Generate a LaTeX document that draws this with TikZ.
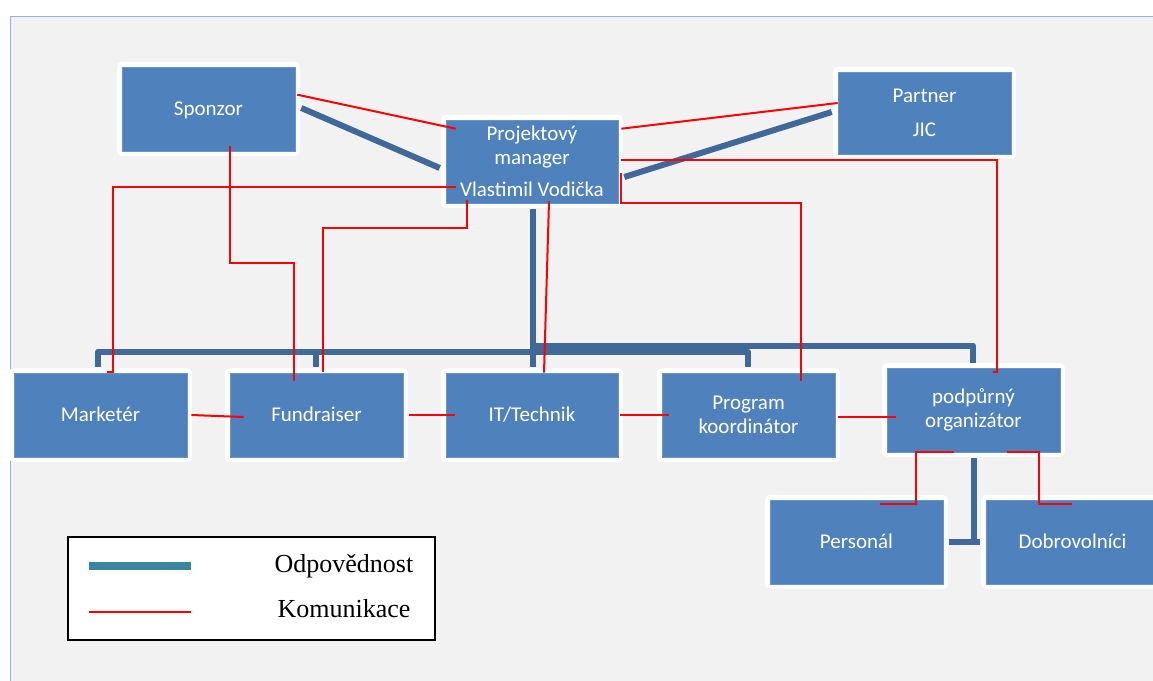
\documentclass[tikz,border=0pt]{standalone}
\usepackage{fontspec}
\setmainfont{Carlito}
\newfontfamily\legendfont{Liberation Serif}
\usetikzlibrary{calc}
\definecolor{boxblue}{HTML}{4F81BD}
\definecolor{respblue}{RGB}{64,104,153}
\definecolor{legendteal}{RGB}{58,134,160}
\definecolor{panelgray}{HTML}{F2F2F2}
\definecolor{paneledge}{HTML}{95B3D7}

\begin{document}
\begin{tikzpicture}[x=1pt,y=-1pt,
  unit/.style={fill=boxblue, draw=boxblue!85!white, line width=0.6pt, text=white,
    minimum width=173pt, minimum height=84pt, inner sep=0pt, align=center,
    font=\fontsize{21}{24}\selectfont,
    preaction={draw=white, line width=10pt, line join=round}},
  oneline/.style={text height=13pt, text depth=0pt},
  resp/.style={draw=respblue, line width=6pt, line join=round},
  comm/.style={draw=red, line width=2pt},
  legendtext/.style={anchor=base, inner sep=0pt, font=\legendfont\fontsize{26}{30}\selectfont},
]
% page and panel
\fill[white] (0,0) rectangle (1153,680);
\useasboundingbox (0,0) rectangle (1153,680);
\draw[paneledge, fill=panelgray, line width=1pt] (10,16) rectangle (1180,700);

% unit positions
\path (208.5,109) coordinate (c-sp)
      (532,161.5) coordinate (c-pm)
      (924.5,113) coordinate (c-pa)
      (100.5,415) coordinate (c-mk)
      (316.5,415) coordinate (c-fu)
      (532,415)   coordinate (c-it)
      (748.5,415) coordinate (c-pk)
      (973.5,410) coordinate (c-po)
      (856.5,542) coordinate (c-pe)
      (1072.5,542) coordinate (c-do);

% units
\node[unit, oneline] (sp) at (c-sp) {Sponzor};
\node[unit, minimum width=172pt, minimum height=83pt] (pm) at (c-pm)
  {Projektový\\manager\\[8pt]Vlastimil Vodička};
\node[unit, minimum height=82pt] (pa) at (c-pa) {Partner\\[10pt]JIC};
\node[unit, oneline] (mk) at (c-mk) {Marketér};
\node[unit, oneline] (fu) at (c-fu) {Fundraiser};
\node[unit, oneline, minimum width=172pt] (it) at (c-it) {IT/Technik};
\node[unit] (pk) at (c-pk) {Program\\koordinátor};
\node[unit] (po) at (c-po) {podpůrný\\organizátor};
\node[unit, oneline] (pe) at (c-pe) {Personál};
\node[unit, oneline] (do) at (c-do) {Dobrovolníci};

% responsibility (thick blue)
\draw[resp] ($(sp.east)+(6,-1)$) -- ($(pm.west)+(-6,6.5)$);
\draw[resp] ($(pa.west)+(-6,-1)$) -- ($(pm.east)+(6,15.5)$);
\draw[resp] ($(pm.south)+(1,6)$) -- ($(it.north)+(1,-6)$);
\draw[resp] ($(mk.north)+(-2.5,-6)$) -- ++(0,-15) -| ($(pk.north)+(-0.5,-6)$);
\draw[resp] ($(fu.north)+(-0.5,-6)$) -- ++(0,-15);
\draw[resp] ($(it.north)+(1,-27)$) -| ($(po.north)+(-0.5,-5)$);
\draw[resp] ($(po.south)+(0.5,6)$) -- ++(0,84);
\draw[resp] ($(pe.east)+(6,0)$) -- ($(do.west)+(-6,0)$);

% communication (thin red)
\draw[comm] ($(sp.north east)+(2,28)$) -- ($(pm.north west)+(10,9)$);
\draw[comm] ($(pa.west)+(0,-10)$) -- ($(pm.north east)+(3,9)$);
\draw[comm] ($(pm.south west)+(10,-16)$) -| ($(mk.north west)+(99,-1)$) -- ++(-6,0);
\draw[comm] ($(sp.south)+(21.5,-5)$) -- ++(0,117) -| ($(fu.north)+(-22.5,8)$);
\draw[comm] ($(pm.south west)+(21,-3)$) -- ++(0,28) -| ($(fu.north)+(6.5,-1)$);
\draw[comm] ($(pm.south)+(17,-2)$) -- ($(it.north)+(12,0)$);
\draw[comm] ($(pm.east)+(3,11.5)$) -- ++(0,30) -| ($(pk.north)+(52.5,8)$);
\draw[comm] ($(pm.east)+(3,-1.5)$) -| ($(po.north)+(23.5,4)$) -- ++(-4,0);
\draw[comm] ($(mk.east)+(4,0)$) -- ($(fu.west)+(14,2)$);
\draw[comm] ($(fu.east)+(6,0)$) -- ($(it.west)+(9,0)$);
\draw[comm] ($(it.east)+(2,0)$) -- ($(pk.west)+(7,0)$);
\draw[comm] ($(pk.east)+(3,2)$) -- ($(po.west)+(9,7)$);
\draw[comm] ($(po.south)+(-19.5,0)$) -- ++(-38,0) |- ($(pe.north)+(23.5,4)$);
\draw[comm] ($(po.south)+(33.5,0)$) -- ++(32,0) |- ($(do.north)+(-0.5,4)$);

% legend
\node[draw=black, line width=2pt, fill=white, minimum width=367pt,
      minimum height=103pt, inner sep=0pt] (lg) at (251.5,588.5) {};
\draw[legendteal, line width=8pt] ($(lg.west)+(22,-22.5)$) coordinate (lr1) -- ++(102,0) coordinate (lr2);
\draw[red, line width=2pt] ($(lg.west)+(22,23.5)$) coordinate (lc1) -- ++(102,0) coordinate (lc2);
\node[legendtext] (lgr) at ($(lg.center)+(92.5,-16.5)$) {Odpovědnost};
\node[legendtext] (lgc) at ($(lg.center)+(92.5,28.5)$) {Komunikace};
\end{tikzpicture}
\end{document}
